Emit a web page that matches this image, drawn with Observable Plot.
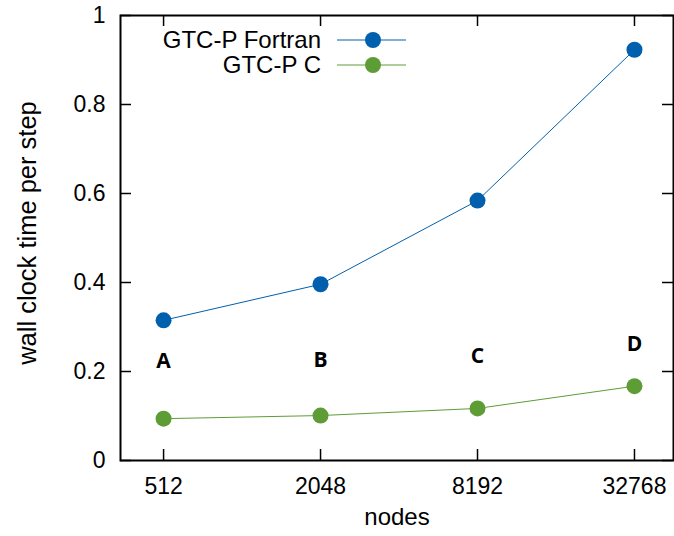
<!DOCTYPE html>
<html><head><meta charset="utf-8">
<script src="https://cdn.jsdelivr.net/npm/d3@7"></script>
<script src="https://cdn.jsdelivr.net/npm/@observablehq/plot@0.6"></script>
<style>body{margin:0;background:#fff}</style>
</head><body><div id="chart"></div>
<script>
const nodes = [512, 2048, 8192, 32768];
const fortran = [0.315, 0.396, 0.584, 0.923];
const cVersion = [0.094, 0.101, 0.117, 0.167];
const letters = ["A", "B", "C", "D"];
const letterY = [0.224, 0.226, 0.235, 0.262];
const yTicks = [0, 0.2, 0.4, 0.6, 0.8, 1];
const seriesNames = ["GTC-P Fortran", "GTC-P C"];
const colors = ["#0060ad", "#5e9c36"];

const rows = nodes.map((n, i) => ({nodes: n, fortran: fortran[i], c: cVersion[i], letter: letters[i], ly: letterY[i]}));

const W = 674, H = 536, ML = 120, MR = 1, MT = 15, MB = 76;
const PW = W - ML - MR, PH = H - MT - MB;
const font = "'Liberation Sans', Arial, Helvetica, sans-serif";

function legend(index, scales, values, dims) {
  const g = d3.create("svg:g");
  seriesNames.forEach((name, i) => {
    const y = dims.marginTop + 25 + i * 25;
    g.append("text").attr("x", dims.marginLeft + 201).attr("y", y).attr("dy", "0.35em")
      .attr("text-anchor", "end").attr("font-size", 24).attr("font-family", font).attr("fill", "black").text(name);
    g.append("line").attr("x1", dims.marginLeft + 217).attr("x2", dims.marginLeft + 286)
      .attr("y1", y).attr("y2", y).attr("stroke", colors[i]).attr("stroke-width", 1);
    g.append("circle").attr("cx", dims.marginLeft + 253).attr("cy", y).attr("r", 8).attr("fill", colors[i]);
  });
  return g.node();
}

const chart = Plot.plot({
  width: W, height: H,
  marginLeft: ML, marginRight: MR, marginTop: MT, marginBottom: MB,
  style: {fontFamily: font, fontSize: "23px", color: "black", background: "white"},
  x: {type: "log", base: 2, domain: [350, 46250]},
  y: {domain: [0, 1]},
  marks: [
    Plot.axisX(nodes, {tickSize: 0, tickPadding: 17, fontSize: 23, label: null, tickFormat: d => String(d)}),
    Plot.axisY(yTicks, {tickSize: 0, tickPadding: 15, fontSize: 23, label: null, tickFormat: d => String(d)}),
    Plot.ruleX(nodes, {x: d => d, insetTop: PH - 11, stroke: "black", strokeWidth: 1.5}),
    Plot.ruleX(nodes, {x: d => d, insetBottom: PH - 11, stroke: "black", strokeWidth: 1.5}),
    Plot.ruleY(yTicks, {y: d => d, insetRight: PW - 11, stroke: "black", strokeWidth: 1.5}),
    Plot.ruleY(yTicks, {y: d => d, insetLeft: PW - 11, stroke: "black", strokeWidth: 1.5}),
    Plot.frame({stroke: "black", strokeWidth: 2}),
    Plot.line(rows, {x: "nodes", y: "fortran", stroke: colors[0], strokeWidth: 1}),
    Plot.line(rows, {x: "nodes", y: "c", stroke: colors[1], strokeWidth: 1}),
    Plot.dot(rows, {x: "nodes", y: "fortran", r: 8, fill: colors[0]}),
    Plot.dot(rows, {x: "nodes", y: "c", r: 8, fill: colors[1]}),
    Plot.text(rows, {x: "nodes", y: "ly", text: "letter", fontFamily: "'Open Sans', sans-serif", fontWeight: "bold", fontSize: 21, fill: "black"}),
    Plot.text(["nodes"], {frameAnchor: "bottom", dy: 64, fontSize: 24, text: d => d}),
    Plot.text(["wall clock time per step"], {frameAnchor: "left", textAnchor: "middle", dx: -93, dy: -5, rotate: -90, fontSize: 25.5, text: d => d}),
    legend
  ]
});
document.getElementById("chart").appendChild(chart);
</script>
</body></html>
